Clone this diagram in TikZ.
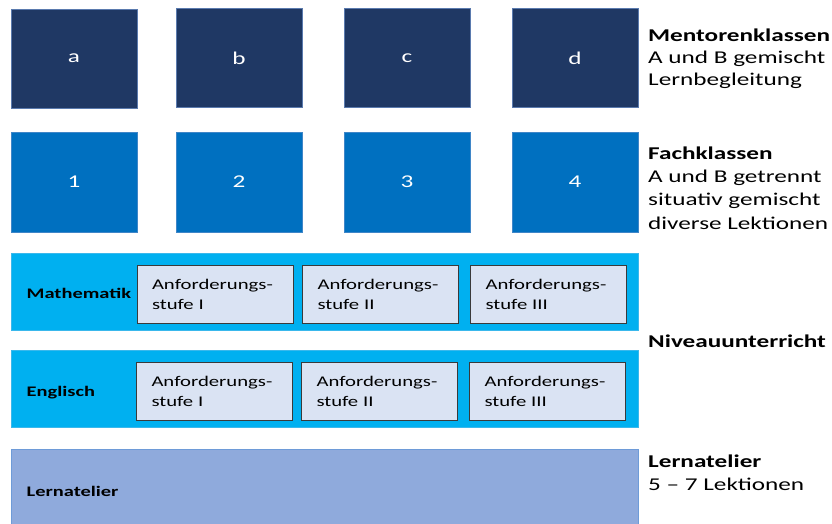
\documentclass[tikz,border=0pt]{standalone}
\usepackage{fontspec}
\setmainfont{Carlito}[FakeStretch=1.4]
\definecolor{navy}{HTML}{1F3864}
\definecolor{navyline}{HTML}{5A7AAE}
\definecolor{fblue}{HTML}{0070C0}
\definecolor{fline}{HTML}{3F86C8}
\definecolor{cyanband}{HTML}{00B0F0}
\definecolor{cyanline}{HTML}{3AB8EC}
\definecolor{lightbox}{HTML}{DAE3F3}
\definecolor{lightline}{HTML}{3A3A3A}
\definecolor{lern}{HTML}{8FAADC}
\definecolor{lernline}{HTML}{6E9BD8}
\begin{document}
\begin{tikzpicture}[x=1pt,y=-1pt,
  mentor/.style={draw=navyline,fill=navy,line width=0.8pt,minimum width=126pt,minimum height=99pt,inner sep=0pt,text=white,font=\fontsize{18}{20}\selectfont},
  fach/.style={draw=fline,fill=fblue,line width=0.8pt,minimum width=126pt,minimum height=100pt,inner sep=0pt,text=white,font=\fontsize{18}{20}\selectfont},
  band/.style={draw=cyanline,fill=cyanband,line width=0.6pt,minimum width=627pt,minimum height=77pt,inner sep=0pt},
  stufe/.style={draw=lightline,fill=lightbox,line width=0.8pt,minimum width=156pt,minimum height=58pt,inner xsep=15pt,inner ysep=0pt,text width=126pt,align=left,font=\fontsize{14.8}{20}\selectfont},
  lernband/.style={draw=lernline,fill=lern,line width=0.6pt,minimum width=627pt,minimum height=80pt,inner sep=0pt},
  rowlabel/.style={anchor=base west,inner sep=0pt,font=\fontsize{14.6}{16}\selectfont\bfseries},
  sidehead/.style={anchor=base west,inner sep=0pt,font=\fontsize{18}{22}\selectfont\bfseries},
  sidetext/.style={anchor=base west,inner sep=0pt,font=\fontsize{18}{22}\selectfont}]
\useasboundingbox (0,0) rectangle (832,523);
% Mentorenklassen
\node[mentor] (ma) at (74,58.5) {a};
\node[mentor] (mb) at (239,58) {b};
\node[mentor] (mc) at (407,58) {c};
\node[mentor] (md) at (575,58) {d};
% Fachklassen
\node[fach] (f1) at (74,182) {1};
\node[fach] (f2) at (239,182) {2};
\node[fach] (f3) at (407,182) {3};
\node[fach] (f4) at (575,182) {4};
% Mathematik band
\node[band] (mathband) at (324.5,291.5) {};
\node[rowlabel] (mathlabel) at (26.5,298) {Mathematik};
\node[stufe] (m1) at (215,294) {Anforderungs-\\stufe I};
\node[stufe] (m2) at (380.5,294) {Anforderungs-\\stufe II};
\node[stufe] (m3) at (548.5,294) {Anforderungs-\\stufe III};
% Englisch band
\node[band] (engband) at (324.5,389) {};
\node[rowlabel] (englabel) at (26.5,396) {Englisch};
\node[stufe] (e1) at (214.5,391) {Anforderungs-\\stufe I};
\node[stufe] (e2) at (379.5,391) {Anforderungs-\\stufe II};
\node[stufe] (e3) at (547.5,391) {Anforderungs-\\stufe III};
% Lernatelier band
\node[lernband] (lernbox) at (324.5,489.5) {};
\node[rowlabel] (lernlabel) at (26.5,496) {Lernatelier};
% Side labels
\node[sidehead] (mhead) at (648,41.5) {Mentorenklassen};
\node[sidetext] (mt1) at (648,63.5) {A und B gemischt};
\node[sidetext] (mt2) at (648,85.5) {Lernbegleitung};
\node[sidehead] (fhead) at (648,159) {Fachklassen};
\node[sidetext] (ft1) at (648,182) {A und B getrennt};
\node[sidetext] (ft2) at (648,205.5) {situativ gemischt};
\node[sidetext] (ft3) at (648,229) {diverse Lektionen};
\node[sidehead] (nhead) at (648,347) {Niveauunterricht};
\node[sidehead] (lhead) at (648,467) {Lernatelier};
\node[sidetext] (lt1) at (648,490.5) {5 -- 7 Lektionen};
\end{tikzpicture}
\end{document}
